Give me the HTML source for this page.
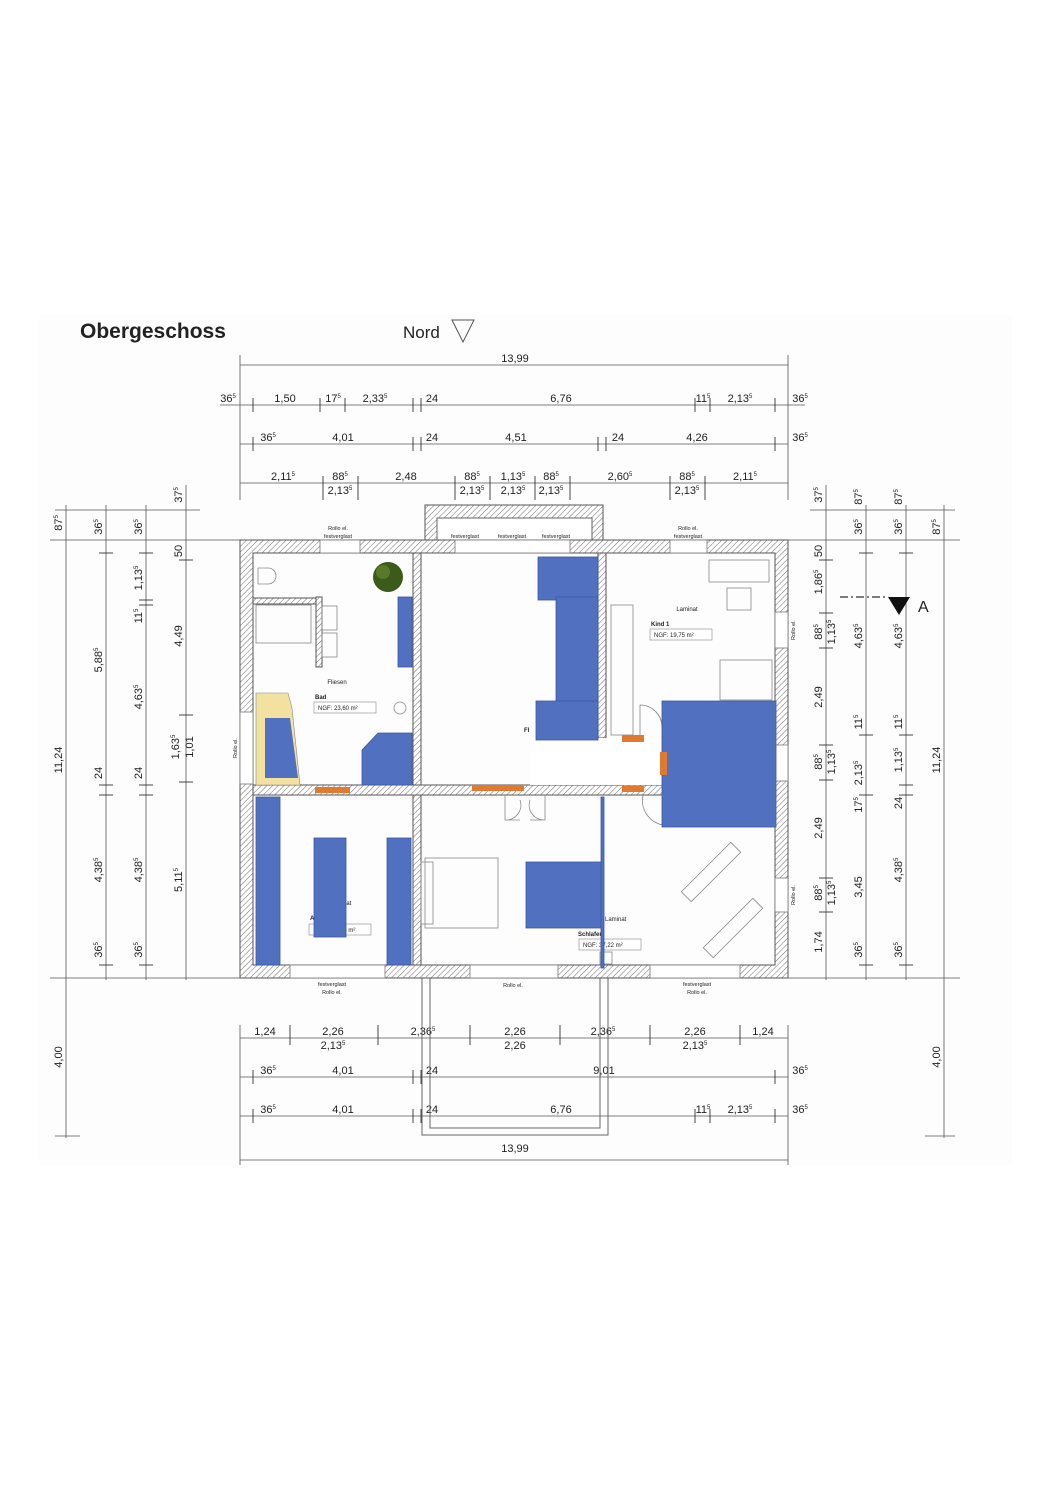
<!DOCTYPE html>
<html><head><meta charset="utf-8"><style>
html,body{margin:0;padding:0;background:#fff}
svg{display:block}
text{font-family:"Liberation Sans",sans-serif;fill:#222}
.d{font-size:11px;text-anchor:middle}
.s{font-size:6px}
.dl{stroke:#555;stroke-width:0.8;fill:none}
.tk{stroke:#333;stroke-width:0.9}
</style></head><body>
<svg width="1050" height="1485" viewBox="0 0 1050 1485" xmlns="http://www.w3.org/2000/svg">
<defs>
<pattern id="h" width="4" height="4" patternUnits="userSpaceOnUse" patternTransform="rotate(45)">
<rect width="4" height="4" fill="#fff"/><line x1="0" y1="0" x2="0" y2="4" stroke="#777" stroke-width="1.1"/>
</pattern>
</defs>
<rect x="38" y="315" width="974" height="850" fill="#fdfdfd"/>
<text x="80" y="338" font-size="21" font-weight="bold">Obergeschoss</text>
<text x="403" y="338" font-size="17">Nord</text>
<polygon points="452,320 474,320 463,342" fill="none" stroke="#555"/>

<g class="dl">
<line x1="240" y1="365" x2="788" y2="365"/>
<line x1="220" y1="405" x2="805" y2="405"/>
<line x1="240" y1="444" x2="788" y2="444"/>
<line x1="240" y1="483" x2="788" y2="483"/>
<line x1="240" y1="1038" x2="788" y2="1038"/>
<line x1="240" y1="1077" x2="788" y2="1077"/>
<line x1="240" y1="1116" x2="788" y2="1116"/>
<line x1="240" y1="1160" x2="788" y2="1160"/>
<line x1="240" y1="355" x2="240" y2="500"/><line x1="788" y1="355" x2="788" y2="500"/>
<line x1="240" y1="1025" x2="240" y2="1165"/><line x1="788" y1="1025" x2="788" y2="1165"/>
</g>
<g class="tk">
<line x1="253" y1="398" x2="253" y2="412"/><line x1="320" y1="398" x2="320" y2="412"/><line x1="345" y1="398" x2="345" y2="412"/><line x1="413" y1="398" x2="413" y2="412"/><line x1="421" y1="398" x2="421" y2="412"/><line x1="695" y1="398" x2="695" y2="412"/><line x1="710" y1="398" x2="710" y2="412"/><line x1="775" y1="398" x2="775" y2="412"/>
<line x1="253" y1="437" x2="253" y2="451"/><line x1="413" y1="437" x2="413" y2="451"/><line x1="421" y1="437" x2="421" y2="451"/><line x1="598" y1="437" x2="598" y2="451"/><line x1="606" y1="437" x2="606" y2="451"/><line x1="775" y1="437" x2="775" y2="451"/>
<line x1="323" y1="476" x2="323" y2="500"/><line x1="358" y1="476" x2="358" y2="500"/><line x1="455" y1="476" x2="455" y2="500"/><line x1="490" y1="476" x2="490" y2="500"/><line x1="535" y1="476" x2="535" y2="500"/><line x1="570" y1="476" x2="570" y2="500"/><line x1="670" y1="476" x2="670" y2="500"/><line x1="705" y1="476" x2="705" y2="500"/>
<line x1="290" y1="1025" x2="290" y2="1045"/><line x1="378" y1="1025" x2="378" y2="1045"/><line x1="470" y1="1025" x2="470" y2="1045"/><line x1="560" y1="1025" x2="560" y2="1045"/><line x1="650" y1="1025" x2="650" y2="1045"/><line x1="740" y1="1025" x2="740" y2="1045"/>
<line x1="253" y1="1070" x2="253" y2="1084"/><line x1="413" y1="1070" x2="413" y2="1084"/><line x1="421" y1="1070" x2="421" y2="1084"/><line x1="775" y1="1070" x2="775" y2="1084"/>
<line x1="253" y1="1109" x2="253" y2="1123"/><line x1="413" y1="1109" x2="413" y2="1123"/><line x1="421" y1="1109" x2="421" y2="1123"/><line x1="695" y1="1109" x2="695" y2="1123"/><line x1="710" y1="1109" x2="710" y2="1123"/><line x1="775" y1="1109" x2="775" y2="1123"/>
</g>
<text class="d" x="515" y="362">13,99</text>
<g class="d">
<text x="228" y="402">36<tspan class="s" dy="-4">5</tspan></text>
<text x="285" y="402">1,50</text>
<text x="333" y="402">17<tspan class="s" dy="-4">5</tspan></text>
<text x="375" y="402">2,33<tspan class="s" dy="-4">5</tspan></text>
<text x="432" y="402">24</text>
<text x="561" y="402">6,76</text>
<text x="703" y="402">11<tspan class="s" dy="-4">5</tspan></text>
<text x="740" y="402">2,13<tspan class="s" dy="-4">5</tspan></text>
<text x="800" y="402">36<tspan class="s" dy="-4">5</tspan></text>
<text x="268" y="441">36<tspan class="s" dy="-4">5</tspan></text>
<text x="343" y="441">4,01</text>
<text x="432" y="441">24</text>
<text x="516" y="441">4,51</text>
<text x="618" y="441">24</text>
<text x="697" y="441">4,26</text>
<text x="800" y="441">36<tspan class="s" dy="-4">5</tspan></text>
<text x="283" y="480">2,11<tspan class="s" dy="-4">5</tspan></text>
<text x="340" y="480">88<tspan class="s" dy="-4">5</tspan></text>
<text x="406" y="480">2,48</text>
<text x="472" y="480">88<tspan class="s" dy="-4">5</tspan></text>
<text x="513" y="480">1,13<tspan class="s" dy="-4">5</tspan></text>
<text x="551" y="480">88<tspan class="s" dy="-4">5</tspan></text>
<text x="620" y="480">2,60<tspan class="s" dy="-4">5</tspan></text>
<text x="687" y="480">88<tspan class="s" dy="-4">5</tspan></text>
<text x="745" y="480">2,11<tspan class="s" dy="-4">5</tspan></text>
<text x="340" y="494">2,13<tspan class="s" dy="-4">5</tspan></text>
<text x="472" y="494">2,13<tspan class="s" dy="-4">5</tspan></text>
<text x="513" y="494">2,13<tspan class="s" dy="-4">5</tspan></text>
<text x="551" y="494">2,13<tspan class="s" dy="-4">5</tspan></text>
<text x="687" y="494">2,13<tspan class="s" dy="-4">5</tspan></text>
<text x="265" y="1035">1,24</text>
<text x="333" y="1035">2,26</text>
<text x="423" y="1035">2,36<tspan class="s" dy="-4">5</tspan></text>
<text x="515" y="1035">2,26</text>
<text x="603" y="1035">2,36<tspan class="s" dy="-4">5</tspan></text>
<text x="695" y="1035">2,26</text>
<text x="763" y="1035">1,24</text>
<text x="333" y="1049">2,13<tspan class="s" dy="-4">5</tspan></text>
<text x="515" y="1049">2,26</text>
<text x="695" y="1049">2,13<tspan class="s" dy="-4">5</tspan></text>
<text x="268" y="1074">36<tspan class="s" dy="-4">5</tspan></text>
<text x="343" y="1074">4,01</text>
<text x="432" y="1074">24</text>
<text x="604" y="1074">9,01</text>
<text x="800" y="1074">36<tspan class="s" dy="-4">5</tspan></text>
<text x="268" y="1113">36<tspan class="s" dy="-4">5</tspan></text>
<text x="343" y="1113">4,01</text>
<text x="432" y="1113">24</text>
<text x="561" y="1113">6,76</text>
<text x="703" y="1113">11<tspan class="s" dy="-4">5</tspan></text>
<text x="740" y="1113">2,13<tspan class="s" dy="-4">5</tspan></text>
<text x="800" y="1113">36<tspan class="s" dy="-4">5</tspan></text>
<text x="515" y="1152">13,99</text>
</g>

<g class="dl">
<line x1="66" y1="505" x2="66" y2="1138"/>
<line x1="106" y1="505" x2="106" y2="980"/>
<line x1="146" y1="505" x2="146" y2="980"/>
<line x1="186" y1="485" x2="186" y2="980"/>
<line x1="826" y1="485" x2="826" y2="980"/>
<line x1="866" y1="505" x2="866" y2="980"/>
<line x1="906" y1="505" x2="906" y2="980"/>
<line x1="944" y1="505" x2="944" y2="1138"/>
<line x1="50" y1="540" x2="240" y2="540"/><line x1="50" y1="978" x2="240" y2="978"/>
<line x1="788" y1="540" x2="960" y2="540"/><line x1="788" y1="978" x2="960" y2="978"/>
<line x1="55" y1="1136" x2="80" y2="1136"/><line x1="925" y1="1136" x2="955" y2="1136"/>
<line x1="55" y1="510" x2="200" y2="510"/><line x1="810" y1="510" x2="955" y2="510"/>
</g>
<g class="tk">
<line x1="99" y1="553" x2="113" y2="553"/><line x1="99" y1="785" x2="113" y2="785"/><line x1="99" y1="795" x2="113" y2="795"/><line x1="99" y1="965" x2="113" y2="965"/>
<line x1="139" y1="553" x2="153" y2="553"/><line x1="139" y1="600" x2="153" y2="600"/><line x1="139" y1="605" x2="153" y2="605"/><line x1="139" y1="785" x2="153" y2="785"/><line x1="139" y1="795" x2="153" y2="795"/><line x1="139" y1="965" x2="153" y2="965"/>
<line x1="179" y1="560" x2="193" y2="560"/><line x1="179" y1="715" x2="193" y2="715"/><line x1="179" y1="782" x2="193" y2="782"/>
<line x1="819" y1="560" x2="833" y2="560"/><line x1="819" y1="613" x2="833" y2="613"/><line x1="819" y1="648" x2="833" y2="648"/><line x1="819" y1="745" x2="833" y2="745"/><line x1="819" y1="780" x2="833" y2="780"/><line x1="819" y1="878" x2="833" y2="878"/><line x1="819" y1="912" x2="833" y2="912"/>
<line x1="859" y1="553" x2="873" y2="553"/><line x1="859" y1="735" x2="873" y2="735"/><line x1="859" y1="795" x2="873" y2="795"/><line x1="859" y1="965" x2="873" y2="965"/>
<line x1="899" y1="553" x2="913" y2="553"/><line x1="899" y1="735" x2="913" y2="735"/><line x1="899" y1="785" x2="913" y2="785"/><line x1="899" y1="795" x2="913" y2="795"/><line x1="899" y1="965" x2="913" y2="965"/>
</g>
<g class="d">
<text transform="translate(62,523) rotate(-90)">87<tspan class="s" dy="-4">5</tspan></text>
<text transform="translate(62,760) rotate(-90)">11,24</text>
<text transform="translate(62,1057) rotate(-90)">4,00</text>
<text transform="translate(102,527) rotate(-90)">36<tspan class="s" dy="-4">5</tspan></text>
<text transform="translate(102,660) rotate(-90)">5,88<tspan class="s" dy="-4">5</tspan></text>
<text transform="translate(102,773) rotate(-90)">24</text>
<text transform="translate(102,870) rotate(-90)">4,38<tspan class="s" dy="-4">5</tspan></text>
<text transform="translate(102,950) rotate(-90)">36<tspan class="s" dy="-4">5</tspan></text>
<text transform="translate(142,527) rotate(-90)">36<tspan class="s" dy="-4">5</tspan></text>
<text transform="translate(142,578) rotate(-90)">1,13<tspan class="s" dy="-4">5</tspan></text>
<text transform="translate(142,616) rotate(-90)">11<tspan class="s" dy="-4">5</tspan></text>
<text transform="translate(142,697) rotate(-90)">4,63<tspan class="s" dy="-4">5</tspan></text>
<text transform="translate(142,773) rotate(-90)">24</text>
<text transform="translate(142,870) rotate(-90)">4,38<tspan class="s" dy="-4">5</tspan></text>
<text transform="translate(142,950) rotate(-90)">36<tspan class="s" dy="-4">5</tspan></text>
<text transform="translate(182,495) rotate(-90)">37<tspan class="s" dy="-4">5</tspan></text>
<text transform="translate(182,551) rotate(-90)">50</text>
<text transform="translate(182,636) rotate(-90)">4,49</text>
<text transform="translate(179,747) rotate(-90)">1,63<tspan class="s" dy="-4">5</tspan></text>
<text transform="translate(193,747) rotate(-90)">1,01</text>
<text transform="translate(182,880) rotate(-90)">5,11<tspan class="s" dy="-4">5</tspan></text>
<text transform="translate(822,495) rotate(-90)">37<tspan class="s" dy="-4">5</tspan></text>
<text transform="translate(822,551) rotate(-90)">50</text>
<text transform="translate(822,582) rotate(-90)">1,86<tspan class="s" dy="-4">5</tspan></text>
<text transform="translate(822,632) rotate(-90)">88<tspan class="s" dy="-4">5</tspan></text>
<text transform="translate(835,632) rotate(-90)">1,13<tspan class="s" dy="-4">5</tspan></text>
<text transform="translate(822,697) rotate(-90)">2,49</text>
<text transform="translate(822,762) rotate(-90)">88<tspan class="s" dy="-4">5</tspan></text>
<text transform="translate(835,762) rotate(-90)">1,13<tspan class="s" dy="-4">5</tspan></text>
<text transform="translate(822,828) rotate(-90)">2,49</text>
<text transform="translate(822,893) rotate(-90)">88<tspan class="s" dy="-4">5</tspan></text>
<text transform="translate(835,893) rotate(-90)">1,13<tspan class="s" dy="-4">5</tspan></text>
<text transform="translate(822,942) rotate(-90)">1,74</text>
<text transform="translate(862,497) rotate(-90)">87<tspan class="s" dy="-4">5</tspan></text>
<text transform="translate(862,527) rotate(-90)">36<tspan class="s" dy="-4">5</tspan></text>
<text transform="translate(862,636) rotate(-90)">4,63<tspan class="s" dy="-4">5</tspan></text>
<text transform="translate(862,722) rotate(-90)">11<tspan class="s" dy="-4">5</tspan></text>
<text transform="translate(862,773) rotate(-90)">2,13<tspan class="s" dy="-4">5</tspan></text>
<text transform="translate(862,805) rotate(-90)">17<tspan class="s" dy="-4">5</tspan></text>
<text transform="translate(862,887) rotate(-90)">3,45</text>
<text transform="translate(862,950) rotate(-90)">36<tspan class="s" dy="-4">5</tspan></text>
<text transform="translate(902,497) rotate(-90)">87<tspan class="s" dy="-4">5</tspan></text>
<text transform="translate(902,527) rotate(-90)">36<tspan class="s" dy="-4">5</tspan></text>
<text transform="translate(902,636) rotate(-90)">4,63<tspan class="s" dy="-4">5</tspan></text>
<text transform="translate(902,722) rotate(-90)">11<tspan class="s" dy="-4">5</tspan></text>
<text transform="translate(902,760) rotate(-90)">1,13<tspan class="s" dy="-4">5</tspan></text>
<text transform="translate(902,803) rotate(-90)">24</text>
<text transform="translate(902,870) rotate(-90)">4,38<tspan class="s" dy="-4">5</tspan></text>
<text transform="translate(902,950) rotate(-90)">36<tspan class="s" dy="-4">5</tspan></text>
<text transform="translate(940,527) rotate(-90)">87<tspan class="s" dy="-4">5</tspan></text>
<text transform="translate(940,760) rotate(-90)">11,24</text>
<text transform="translate(940,1057) rotate(-90)">4,00</text>
</g>

<line x1="840" y1="597" x2="886" y2="597" stroke="#333" stroke-width="1.2" stroke-dasharray="8,3,2,3"/>
<polygon points="888,597 910,597 899,615" fill="#111"/>
<text x="918" y="612" font-size="16">A</text>

<g fill="none" stroke="#666" stroke-width="1">
<path d="M422,978 V1135 H608 V978"/>
<path d="M430,978 V1128 H600 V978"/>
</g>

<rect x="425" y="505" width="178" height="35" fill="url(#h)" stroke="#555"/>
<rect x="437" y="518" width="155" height="22" fill="#fff" stroke="#666"/>

<path fill="url(#h)" stroke="#555" stroke-width="1" fill-rule="evenodd"
d="M240,540 H788 V978 H240 Z M253,553 V965 H775 V553 Z"/>
<rect x="413" y="553" width="8" height="232" fill="url(#h)" stroke="#555"/>
<rect x="598" y="553" width="8" height="185" fill="url(#h)" stroke="#555"/>
<rect x="253" y="785" width="522" height="10" fill="url(#h)" stroke="#555"/>
<rect x="413" y="795" width="8" height="170" fill="url(#h)" stroke="#555"/>
<rect x="253" y="598" width="65" height="6" fill="url(#h)" stroke="#555"/>
<rect x="316" y="597" width="6" height="70" fill="url(#h)" stroke="#555"/>
<g fill="#fff" stroke="#777" stroke-width="0.8">
<rect x="320" y="540" width="40" height="13"/>
<rect x="455" y="540" width="115" height="13"/>
<rect x="670" y="540" width="37" height="13"/>
<rect x="240" y="712" width="13" height="72"/>
<rect x="775" y="612" width="13" height="36"/>
<rect x="775" y="745" width="13" height="36"/>
<rect x="775" y="878" width="13" height="34"/>
<rect x="290" y="965" width="95" height="13"/>
<rect x="470" y="965" width="88" height="13"/>
<rect x="650" y="965" width="90" height="13"/>
<rect x="530" y="738" width="135" height="47" stroke="none"/>
</g>
<g font-size="5.5" text-anchor="middle" fill="#444">
<text x="338" y="530">Rollo el.</text><text x="338" y="538">festverglast</text>
<text x="465" y="538">festverglast</text><text x="512" y="538">festverglast</text><text x="556" y="538">festverglast</text>
<text x="688" y="530">Rollo el.</text><text x="688" y="538">festverglast</text>
<text x="332" y="986">festverglast</text><text x="332" y="994">Rollo el.</text>
<text x="513" y="987">Rollo el.</text>
<text x="697" y="986">festverglast</text><text x="697" y="994">Rollo el.</text>
<text transform="translate(237,748) rotate(-90)">Rollo el.</text>
<text transform="translate(795,630) rotate(-90)">Rollo el.</text>
<text transform="translate(795,895) rotate(-90)">Rollo el.</text>
</g>

<g fill="none" stroke="#888" stroke-width="0.8">
<path d="M258,568 h10 a8,8 0 0 1 0,16 h-10 z"/>
<rect x="256" y="605" width="55" height="38"/>
<rect x="322" y="606" width="15" height="24"/><rect x="322" y="633" width="15" height="24"/>
<circle cx="400" cy="708" r="6"/>
<rect x="709" y="560" width="60" height="22"/>
<rect x="727" y="588" width="24" height="22"/>
<rect x="720" y="660" width="52" height="40"/>
<rect x="611" y="605" width="22" height="130"/>
<path d="M640,735 v-30 a22,22 0 0 1 22,22"/>
<path d="M505,795 v25 h15 M545,795 v25 h-15 M505,820 a15,15 0 0 0 15,-20 M545,820 a15,15 0 0 1 -15,-20"/>
<rect x="425" y="858" width="73" height="70"/>
<rect x="421" y="862" width="12" height="62"/>
<g transform="rotate(-45,711,872)"><rect x="676" y="865" width="70" height="14"/></g>
<g transform="rotate(-45,733,928)"><rect x="698" y="921" width="70" height="14"/></g>
<path d="M643,795 a25,25 0 0 0 20,30"/>
<rect x="600" y="952" width="12" height="12"/>
</g>
<g font-size="6" fill="#444">
<text x="337" y="684" text-anchor="middle">Fliesen</text>
<text x="315" y="699" font-weight="bold">Bad</text>
<rect x="314" y="702" width="62" height="11" fill="#fff" stroke="#888" stroke-width="0.6"/>
<text x="318" y="710">NGF: 23,60 m²</text>
<text x="687" y="611" text-anchor="middle">Laminat</text>
<text x="651" y="626" font-weight="bold">Kind 1</text>
<rect x="650" y="629" width="62" height="11" fill="#fff" stroke="#888" stroke-width="0.6"/>
<text x="654" y="637">NGF: 19,75 m²</text>
<text x="605" y="921">Laminat</text>
<text x="578" y="936" font-weight="bold">Schlafen</text>
<rect x="579" y="939" width="62" height="11" fill="#fff" stroke="#888" stroke-width="0.6"/>
<text x="583" y="947">NGF: 37,22 m²</text>
<text x="330" y="905">Laminat</text>
<text x="310" y="920" font-weight="bold">A</text>
<rect x="309" y="924" width="62" height="11" fill="#fff" stroke="#888" stroke-width="0.6"/>
<text x="340" y="932">58 m²</text>
<text x="524" y="732" font-weight="bold">Fl</text>
</g>
<circle cx="388" cy="577" r="15" fill="#3c5a1a"/>
<circle cx="383" cy="572" r="7" fill="#56792a"/>

<g fill="#5170c0" stroke="#3a55a8" stroke-width="0.8">
<rect x="398" y="597" width="14" height="70"/>
<polygon points="362,750 378,733 412,733 412,785 362,785"/>
<rect x="538" y="557" width="60" height="43"/>
<rect x="556" y="597" width="42" height="106"/>
<rect x="536" y="701" width="62" height="39"/>
<rect x="662" y="701" width="114" height="126"/>
<rect x="256" y="797" width="24" height="168"/>
<rect x="314" y="838" width="32" height="99"/>
<rect x="387" y="838" width="24" height="127"/>
<rect x="526" y="862" width="77" height="66"/>
<rect x="601" y="797" width="3" height="171"/>
</g>
<polygon points="256,693 288,693 292,708 300,785 256,785" fill="#f3e1a0" stroke="#888" stroke-width="0.6"/>
<polygon points="265,718 290,718 298,778 265,778" fill="#5170c0"/>
<g fill="#e07a30">
<rect x="622" y="735" width="22" height="7"/>
<rect x="660" y="752" width="7" height="23"/>
<rect x="315" y="787" width="35" height="6"/>
<rect x="472" y="785" width="52" height="6"/>
<rect x="622" y="786" width="22" height="6"/>
</g>
</svg>
</body></html>
